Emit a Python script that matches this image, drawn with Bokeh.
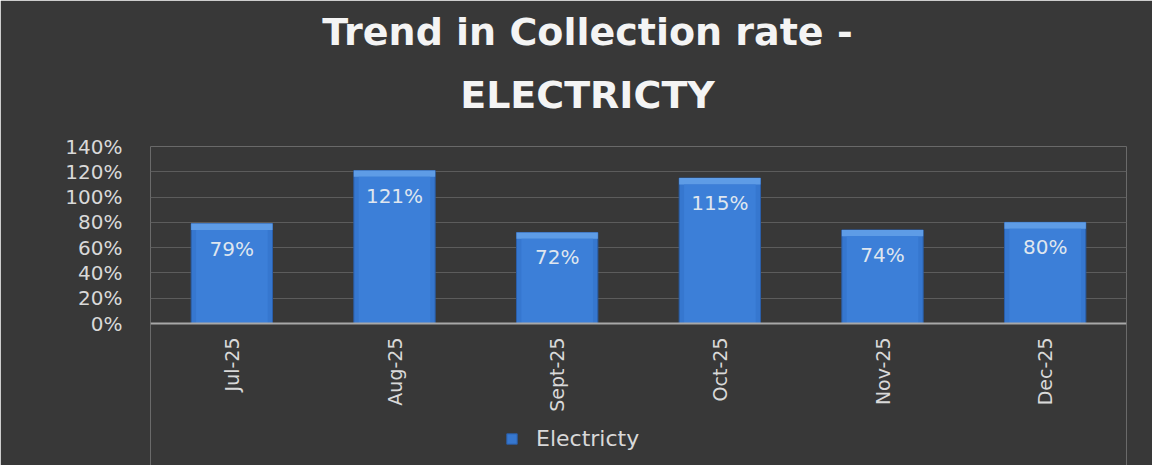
from bokeh.plotting import figure
from bokeh.models import (ColumnDataSource, FactorRange, Range1d, NumeralTickFormatter,
                          Title, Legend, LegendItem, FixedTicker)
from bokeh.embed import file_html
from bokeh.resources import INLINE
from bokeh.core.properties import value
import math

# ---- data ----
months = ["Jul-25", "Aug-25", "Sept-25", "Oct-25", "Nov-25", "Dec-25"]
rates = [0.79, 1.21, 0.72, 1.15, 0.74, 0.80]
rate_labels = ["79%", "121%", "72%", "115%", "74%", "80%"]
y_ticks = [0.0, 0.2, 0.4, 0.6, 0.8, 1.0, 1.2, 1.4]
series_name = "Electricty"
title_line1 = "Trend in Collection rate -"
title_line2 = "ELECTRICTY"

BG = "#383838"
BAR = "#3677cf"
BEVEL = "#5e9ce6"
TXT = "#d9d9d9"

src = ColumnDataSource(dict(
    m=months, v=rates, lab=rate_labels,
    bev=[r - 0.05 for r in rates],
))

# frame reaches down to the legend; the value axis (0..140%) uses the upper 177 px
PX_PER_UNIT = 177 / 1.4
y_start = -142 / PX_PER_UNIT

p = figure(
    frame_width=976, frame_height=319,
    x_range=FactorRange(factors=months, range_padding=0),
    y_range=Range1d(y_start, 1.4),
    output_backend="svg", toolbar_location=None,
    background_fill_color=BG, border_fill_color=BG,
    min_border_left=150, min_border_right=26,
    min_border_top=146, min_border_bottom=0,
)
p.outline_line_color = None

bars = p.vbar(x="m", top="v", width=0.5, source=src,
              fill_color=BAR, line_color="#2b5ea8", line_width=1)
p.vbar(x="m", top="v", bottom="bev", width=0.5, source=src,
       fill_color=BEVEL, line_color=None)
p.vbar(x="m", top="bev", bottom=0, width=0.44, source=src,
       fill_color="#3c7fd8", line_color=None)

p.text(x="m", y="v", text="lab", source=src, y_offset=25,
       text_align="center", text_baseline="middle",
       text_font=value("DejaVu Sans"), text_font_size="20px",
       text_color="#dfe6ef")

# axes
p.yaxis.ticker = FixedTicker(ticks=y_ticks)
p.yaxis.formatter = NumeralTickFormatter(format="0%")
p.yaxis.axis_line_color = None
p.yaxis.major_tick_line_color = None
p.yaxis.minor_tick_line_color = None
p.yaxis.major_tick_out = 0
p.yaxis.major_label_standoff = 28
p.yaxis.major_label_text_font = "DejaVu Sans"
p.yaxis.major_label_text_font_size = "20px"
p.yaxis.major_label_text_color = TXT

p.xaxis.fixed_location = 0
p.xaxis.axis_line_color = "#a8a8a8"
p.xaxis.axis_line_width = 2
p.xaxis.major_tick_line_color = None
p.xaxis.minor_tick_line_color = None
p.xaxis.major_tick_out = 0
p.xaxis.major_tick_in = 0
p.xaxis.major_label_orientation = math.pi / 2
p.xaxis.major_label_standoff = 14
p.xaxis.major_label_text_font = "DejaVu Sans"
p.xaxis.major_label_text_font_size = "19px"
p.xaxis.major_label_text_color = TXT

p.xgrid.grid_line_color = None
p.ygrid.grid_line_color = "#5c5c5c"
p.ygrid.grid_line_width = 1

# title (two lines; the later one is placed above)
p.add_layout(Title(text=title_line2, align="center", standoff=60,
                   padding=(0, 102, 0, 0),
                   text_font="DejaVu Sans", text_font_style="bold",
                   text_font_size="38px", text_color="#f4f4f4"), "above")
p.add_layout(Title(text=title_line1, align="center", standoff=-26,
                   padding=(0, 102, 0, 0),
                   text_font="DejaVu Sans", text_font_style="bold",
                   text_font_size="38px", text_color="#f4f4f4"), "above")

legend = Legend(items=[LegendItem(label=series_name, renderers=[bars])],
                location=(355, 14), orientation="horizontal",
                padding=0, margin=0, spacing=0,
                glyph_width=13, glyph_height=13, label_standoff=18,
                label_text_font="DejaVu Sans", label_text_font_size="22px",
                label_text_color=TXT,
                border_line_color=None, background_fill_alpha=0)
p.add_layout(legend)

open("out.html", "w").write(file_html(p, INLINE))
